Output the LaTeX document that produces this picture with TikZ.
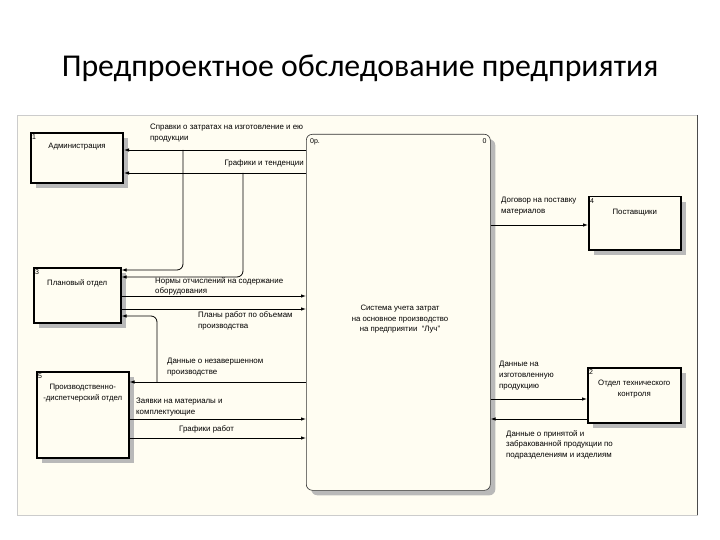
\documentclass[tikz,border=0pt]{standalone}
\usepackage{fontspec}
\setmainfont{Liberation Sans}
\newfontfamily\titlefont{Carlito}
\usetikzlibrary{positioning,arrows.meta,shadows}
\definecolor{paper}{HTML}{FFFDF2}

\begin{document}
\begin{tikzpicture}[x=1pt,y=-1pt,
    box/.style={draw, line width=1.5pt, fill=paper, anchor=north west, inner sep=0pt,
      general shadow={shadow xshift=5pt, shadow yshift=-5pt, fill=gray!55}},
    boxtxt/.style={font=\fontsize{7.8}{10.5}\selectfont, align=center, inner sep=0pt, anchor=north},
    num/.style={font=\fontsize{7}{8}\selectfont, inner sep=0pt},
    txt/.style={font=\fontsize{7.9}{10.8}\selectfont, align=left, inner sep=0pt},
    flow/.style={-{Latex[length=5pt,width=3.5pt]}, line width=0.8pt}]
    \fill[white] (0,0) rectangle (720,540);
    \useasboundingbox (0,0) rectangle (720,540);
    \node[font=\titlefont\fontsize{31.8}{36}\selectfont, anchor=base] (title) at (360,77) {Предпроектное обследование предприятия};
    \draw[fill=paper, draw=gray!40] (17,115) rectangle (697,515);
    \draw[black!70] (697,115) -- (697,515);

    % boxes
    \node[box, line width=2pt, minimum width=92pt, minimum height=50pt] (adm) at (30,132) {};
    \node[box, minimum width=87pt, minimum height=55pt] (plan) at (33,267) {};
    \node[box, minimum width=92pt, minimum height=86pt] (pd) at (36,371) {};
    \node[box, minimum width=92pt, minimum height=53pt] (sup) at (588,196) {};
    \node[box, minimum width=93pt, minimum height=55pt] (otk) at (587,367) {};
    \node[box, line width=0.6pt, draw=black!80, rounded corners=6pt, minimum width=184pt, minimum height=356pt] (sys) at (306,134) {};

    \node[boxtxt, below=11pt of adm.north] (admtxt) {Администрация};
    \node[boxtxt, below=13pt of plan.north] (plantxt) {Плановый отдел};
    \node[boxtxt, below=13pt of pd.north] (pdtxt) {Производственно-\\-диспетчерский отдел};
    \node[boxtxt, below=13pt of sup.north] (suptxt) {Поставщики};
    \node[boxtxt, below=13pt of otk.north] (otktxt) {Отдел технического\\контроля};
    \node[boxtxt] (systxt) at (400,305) {Система учета затрат\\на основное производство\\на предприятии \ “Луч”};

    \node[num, below right=2pt and 2pt of adm.north west] (admno) {1};
    \node[num, below right=2pt and 2pt of plan.north west] (planno) {3};
    \node[num, below right=2pt and 2pt of pd.north west] (pdno) {5};
    \node[num, below right=2pt and 2pt of sup.north west] (supno) {4};
    \node[num, below right=2pt and 2pt of otk.north west] (otkno) {2};
    \node[num, below right=4pt and 4pt of sys.north west] (syscost) {0р.};
    \node[num, below left=4pt and 4pt of sys.north east] (sysno) {0};

    % branch points
    \coordinate (br1) at (183,150);
    \coordinate (br2) at (243,173);
    \coordinate (br3) at (157,382);

    % flows
    \draw[flow] (sys.west |- br1) -- (adm.east |- br1);
    \draw[flow] (sys.west |- br2) -- (adm.east |- br2);
    \draw[flow, rounded corners=6pt] (br1) |- (plan.east |- 0,270);
    \draw[flow, rounded corners=6pt] (br2) |- (plan.east |- 0,277);
    \draw[flow] (plan.east |- 0,296) -- (sys.west |- 0,296);
    \draw[flow] (plan.east |- 0,309) -- (sys.west |- 0,309);
    \draw[flow] (sys.west |- br3) -- (pd.east |- br3);
    \draw[flow, rounded corners=6pt] (br3) |- (plan.east |- 0,316);
    \draw[flow] (pd.east |- 0,419) -- (sys.west |- 0,419);
    \draw[flow] (pd.east |- 0,438) -- (sys.west |- 0,438);
    \draw[flow] (sys.east |- 0,225) -- (sup.west |- 0,225);
    \draw[flow] (sys.east |- 0,399) -- (otk.west |- 0,399);
    \draw[flow] (otk.west |- 0,419) -- (sys.east |- 0,419);

    % flow labels
    \node[txt, anchor=north west] (l1) at (150,124) {Справки о затратах на изготовление и ею\\продукции};
    \node[txt, anchor=east] (l2) at (304,163) {Графики и тенденции};
    \node[txt, anchor=north west] (l3) at (155,277) {Нормы отчислений на содержание\\оборудования};
    \node[txt, anchor=north west] (l4) at (198,312) {Планы работ по объемам\\производства};
    \node[txt, anchor=north west] (l5) at (167,358) {Данные о незавершенном\\производстве};
    \node[txt, anchor=north west] (l6) at (136,398) {Заявки на материалы и\\комплектующие};
    \node[txt, anchor=west] (l7) at (179,429) {Графики работ};
    \node[txt, anchor=north west] (l8) at (501,197) {Договор на поставку\\материалов};
    \node[txt, anchor=north west] (l9) at (499,361) {Данные на\\изготовленную\\продукцию};
    \node[txt, anchor=north west] (l10) at (506,430) {Данные о принятой и\\забракованной продукции по\\подразделениям и изделиям};
\end{tikzpicture}
\end{document}
